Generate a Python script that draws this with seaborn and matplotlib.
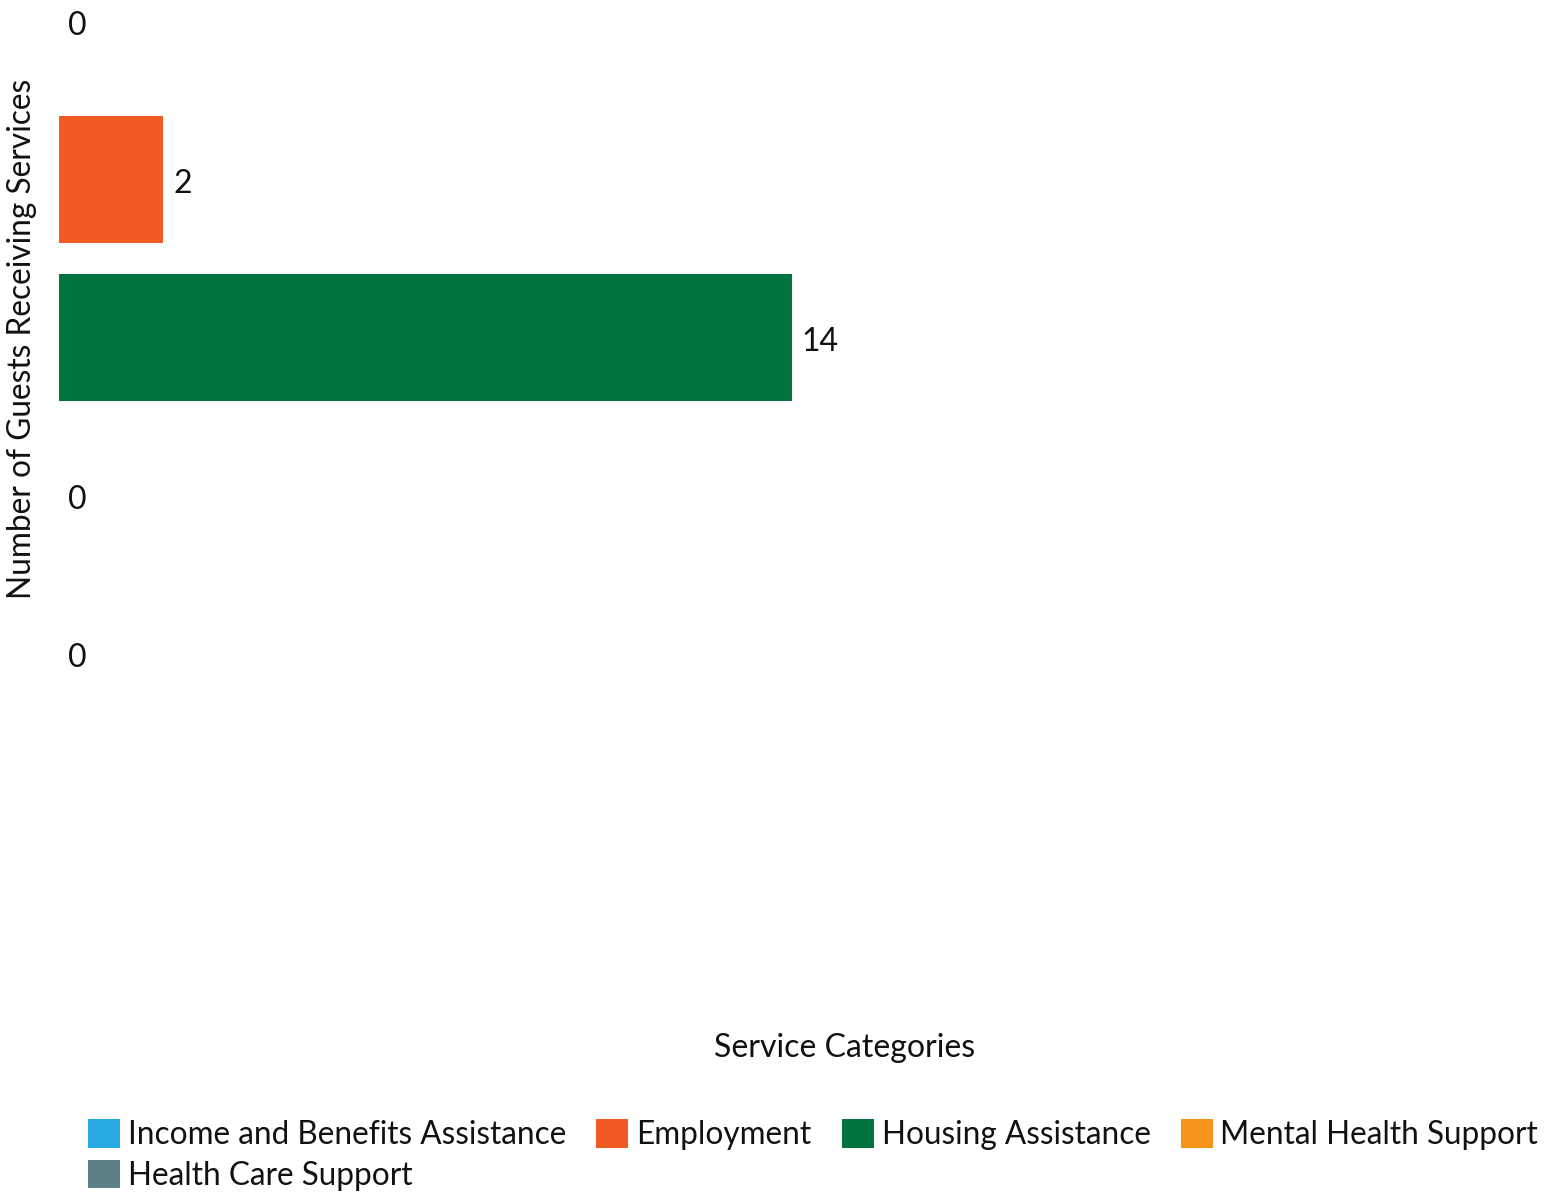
import matplotlib
matplotlib.use("Agg")
import matplotlib.pyplot as plt
from matplotlib.patches import Patch
import seaborn as sns
import pandas as pd

categories = ["Income and Benefits Assistance", "Employment", "Housing Assistance",
              "Mental Health Support", "Health Care Support"]
values = [0, 2, 14, 0, 0]
colors = ["#29A9E1", "#F15A24", "#00733F", "#F7941D", "#5E7F84"]
x_title = "Service Categories"
y_title = "Number of Guests Receiving Services"

sns.set_theme(style="white")
plt.rcParams["font.family"] = ["Lato", "DejaVu Sans"]

W, H = 1565, 1193
FS = 23
LFS = 22.7
fig = plt.figure(figsize=(W / 100, H / 100), dpi=100)
left = 58.5
ax = fig.add_axes([left / W, 1 - 732.5 / H, (W - 20 - left) / W, 732.5 / H])

df = pd.DataFrame({"category": categories, "value": values})
sns.barplot(data=df, x="value", y="category", hue="category", order=categories,
            hue_order=categories, palette=colors, orient="h", width=0.805,
            legend=False, ax=ax, saturation=1, linewidth=0)

for i, v in enumerate(values):
    ax.annotate(f"{v:g}", xy=(v, i), xytext=(7, -3.5), textcoords="offset points",
                ha="left", va="center", fontsize=FS, color="#111111")

ax.set_xlim(0, (W - 20 - left) / 52.4)
ax.set_ylim(4.5, -0.136)
ax.set_xticks([])
ax.set_yticks([])
ax.set_xlabel("")
ax.set_ylabel("")
for s in ax.spines.values():
    s.set_visible(False)
ax.patch.set_alpha(0)

fig.text(845 / W, 1 - 1048 / H, x_title, ha="center", va="center", fontsize=FS, color="#111111")
fig.text(22 / W, 1 - 338.5 / H, y_title, ha="center", va="center", rotation=90,
         fontsize=22.8, color="#111111")

fpx = LFS * 100 / 72
handles = [Patch(facecolor=c, edgecolor="none", label=l) for c, l in zip(colors, categories)]
order = [0, 4, 1, 2, 3]
handles = [handles[k] for k in order]
fig.legend(handles=handles, loc="upper left", bbox_to_anchor=(88 / W, 1 - 1119 / H),
           ncol=4, frameon=False, fontsize=LFS, handlelength=32 / fpx, handleheight=32 / fpx,
           handletextpad=8 / fpx, columnspacing=30 / fpx, borderpad=0, borderaxespad=0,
           labelspacing=0.3, labelcolor="#111111")

fig.savefig("out.png", dpi=100)
